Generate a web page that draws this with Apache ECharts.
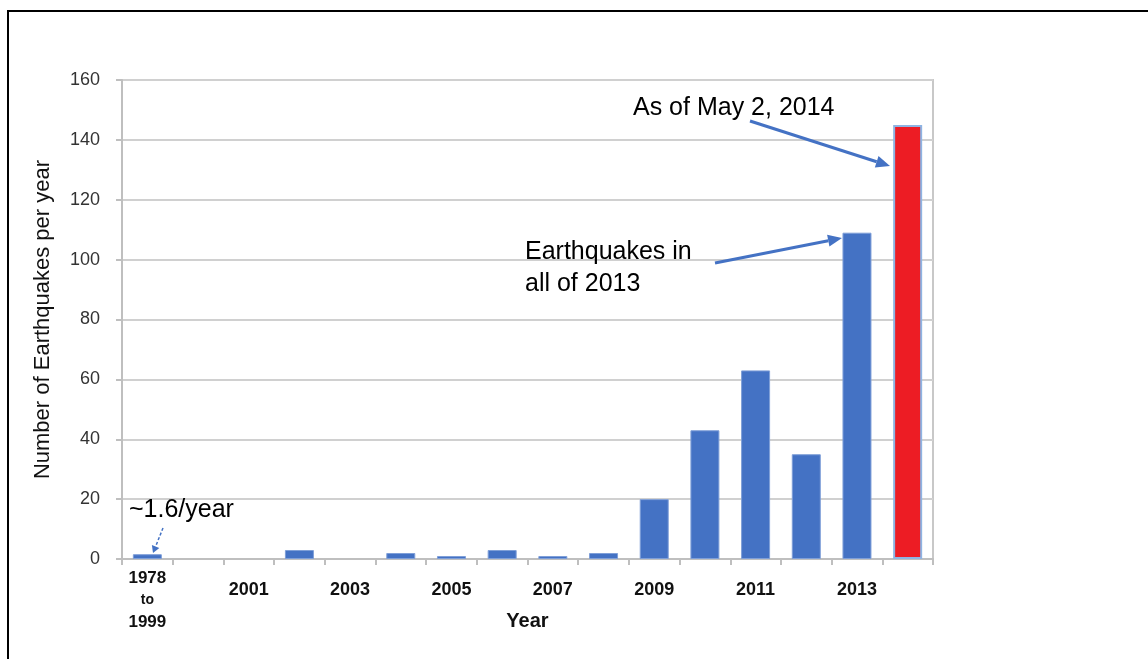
<!DOCTYPE html>
<html>
<head>
<meta charset="utf-8">
<script src="https://cdn.jsdelivr.net/npm/echarts@6/dist/echarts.min.js"></script>
<style>
  html, body { margin: 0; padding: 0; background: #fff; }
  #frame { position: absolute; left: 7px; top: 10px; width: 1141px; height: 649px;
           border-top: 2px solid #000; border-left: 2px solid #000; box-sizing: border-box; }
  #chart { position: absolute; left: 0; top: 0; width: 1148px; height: 659px; }
</style>
</head>
<body>
<div id="frame"></div>
<div id="chart"></div>
<script>
// ---- data ----
const categories = ['1978 to 1999', '2000', '2001', '2002', '2003', '2004', '2005', '2006',
                    '2007', '2008', '2009', '2010', '2011', '2012', '2013', '2014'];
const quakes = [1.6, 0, 0, 3, 0, 2, 1, 3, 1, 2, 20, 43, 63, 35, 109, 145];
const yTicks = [0, 20, 40, 60, 80, 100, 120, 140, 160];
const highlightCategory = '2014';
const annotations = {
  latest: 'As of May 2, 2014',
  year2013: ['Earthquakes in', 'all of 2013'],
  early: '~1.6/year'
};

const FONT = 'Liberation Sans, Arial, sans-serif';
const BLUE = '#4472c4';

const chart = echarts.init(document.getElementById('chart'), null, { renderer: 'canvas' });

function arrow(x1, y1, x2, y2, opts) {
  opts = opts || {};
  const w = opts.width || 3;
  const hl = opts.headLen || 14, hw = opts.headWidth || 6;
  const ang = Math.atan2(y2 - y1, x2 - x1);
  const bx = x2 - hl * Math.cos(ang), by = y2 - hl * Math.sin(ang);
  const px = -Math.sin(ang) * hw, py = Math.cos(ang) * hw;
  return [
    { type: 'line', z: 100, shape: { x1: x1, y1: y1, x2: bx, y2: by },
      style: { stroke: BLUE, lineWidth: w, lineDash: opts.dash || null } },
    { type: 'polygon', z: 100, shape: { points: [[x2, y2], [bx + px, by + py], [bx - px, by - py]] },
      style: { fill: BLUE } }
  ];
}

const option = {
  backgroundColor: 'transparent',
  animation: false,
  grid: { left: 122, right: 215, top: 80, bottom: 100, show: true,
          borderColor: '#c8c8c8', borderWidth: 2, backgroundColor: 'transparent' },
  xAxis: {
    type: 'category',
    data: categories,
    name: 'Year',
    nameLocation: 'middle',
    nameGap: 52,
    nameMoveOverlap: false,
    nameTextStyle: { fontFamily: FONT, fontSize: 20, fontWeight: 'bold', color: '#111' },
    axisLine: { lineStyle: { color: '#bfbfbf', width: 2 } },
    axisTick: { show: true, interval: 0, length: 6, lineStyle: { color: '#bfbfbf', width: 2 } },
    axisLabel: {
      interval: 1,
      margin: 8,
      formatter: function (v, i) {
        if (i === 0) {
          const p = v.split(' ');
          return '{a|' + p[0] + '}\n{t|' + p[1] + '}\n{a|' + p[2] + '}';
        }
        return '{b|' + v + '}';
      },
      rich: {
        a: { fontFamily: FONT, fontSize: 17, fontWeight: 'bold', color: '#111', lineHeight: 22 },
        t: { fontFamily: FONT, fontSize: 14, fontWeight: 'bold', color: '#111', lineHeight: 22 },
        b: { fontFamily: FONT, fontSize: 18, fontWeight: 'bold', color: '#111', lineHeight: 22, padding: [24, 0, 0, 0] }
      }
    },
    splitLine: { show: false }
  },
  yAxis: {
    type: 'value',
    min: yTicks[0],
    max: yTicks[yTicks.length - 1],
    interval: yTicks[1] - yTicks[0],
    name: 'Number of Earthquakes per year',
    nameLocation: 'middle',
    nameGap: 68,
    nameTextStyle: { fontFamily: FONT, fontSize: 22, color: '#111' },
    axisLine: { show: true, lineStyle: { color: '#bfbfbf', width: 2 } },
    axisTick: { show: true, length: 6, lineStyle: { color: '#bfbfbf', width: 2 } },
    axisLabel: { fontFamily: FONT, fontSize: 18, color: '#333', margin: 22 },
    splitLine: { lineStyle: { color: '#d0d0d0', width: 2 } }
  },
  series: [{
    type: 'bar',
    barWidth: 29,
    data: quakes.map(function (v, i) {
      if (categories[i] === highlightCategory) {
        return { value: v, itemStyle: { color: '#ed1c24', borderColor: '#8eb4e3', borderWidth: 2 } };
      }
      return { value: v, itemStyle: { color: BLUE, borderColor: '#7f9fd8', borderWidth: v > 0 ? 1 : 0 } };
    })
  }],
  graphic: [].concat(
    [
      { type: 'text', z: 100, left: 633, top: 96,
        style: { text: annotations.latest, font: '25px ' + FONT, fill: '#000' } },
      { type: 'text', z: 100, left: 525, top: 236,
        style: { text: annotations.year2013.join('\n'), font: '25px ' + FONT, fill: '#000', lineHeight: 32 } },
      { type: 'text', z: 100, left: 129, top: 498,
        style: { text: annotations.early, font: '25px ' + FONT, fill: '#000' } }
    ],
    arrow(750, 121, 890, 166),
    arrow(715, 263, 842, 238),
    arrow(163, 528, 153, 553, { width: 1.5, dash: [3, 2], headLen: 7, headWidth: 4 })
  )
};

chart.setOption(option);
</script>
</body>
</html>
